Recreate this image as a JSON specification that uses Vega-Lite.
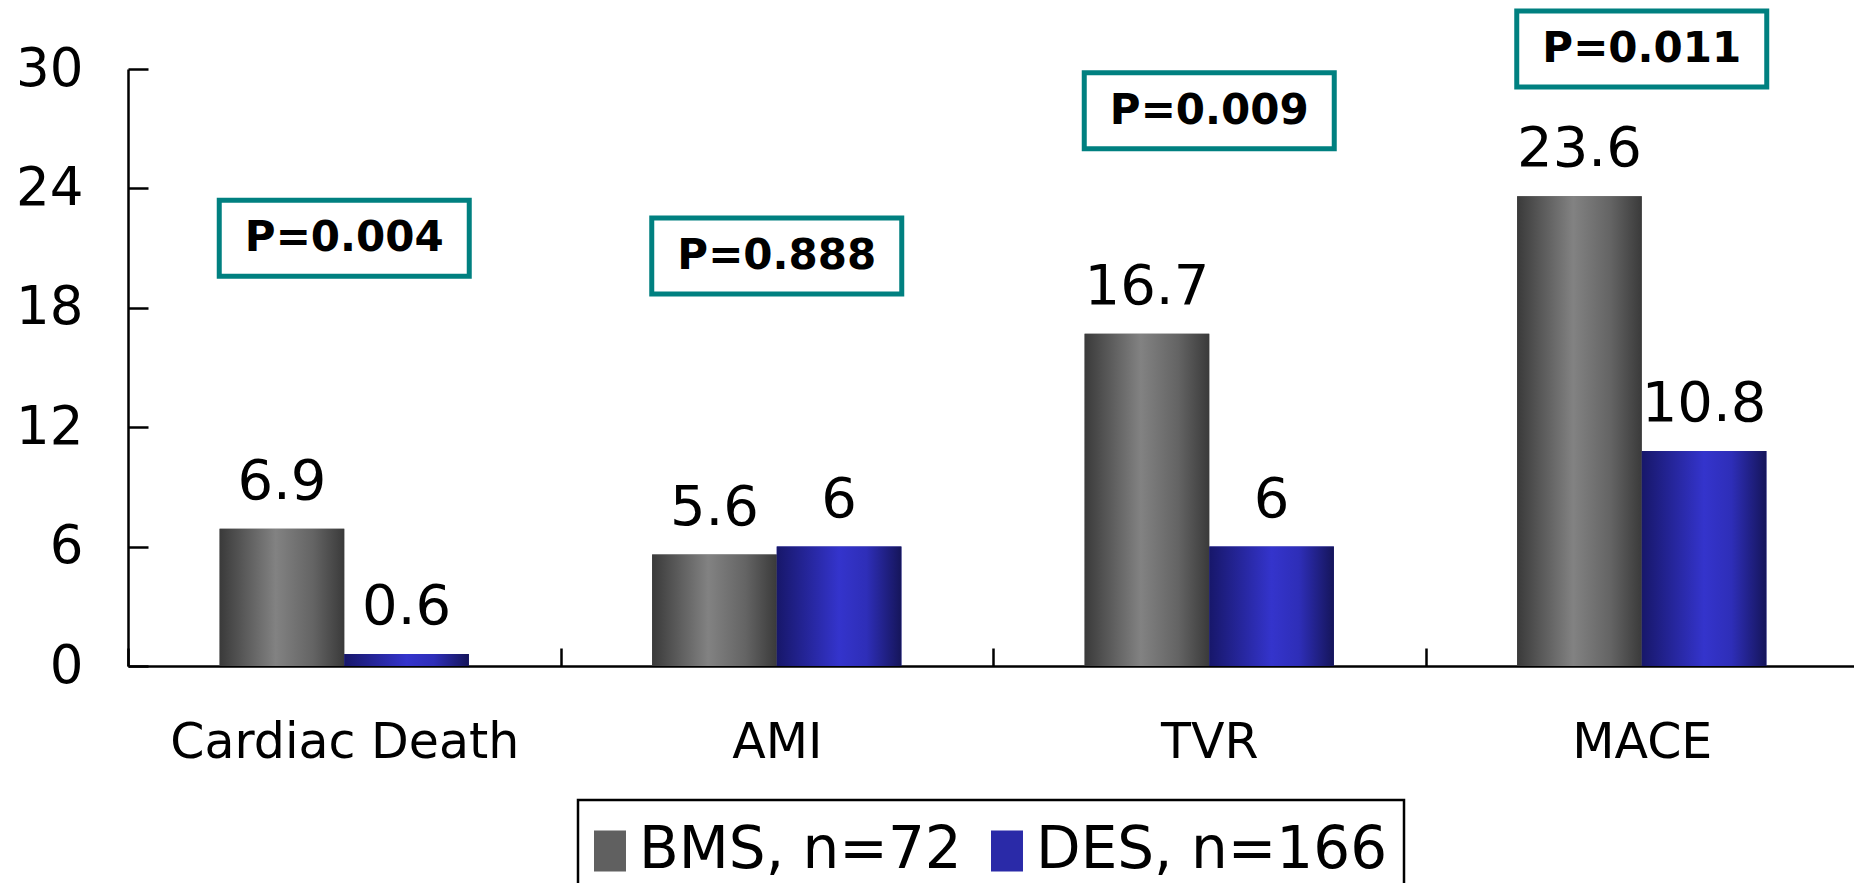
{
  "$schema": "https://vega.github.io/schema/vega-lite/v6.json",
  "autosize": "none",
  "width": 1730,
  "height": 597,
  "padding": {"left": 128, "top": 69, "right": 0, "bottom": 217},
  "background": "white",
  "config": {"view": {"stroke": null}, "font": "DejaVu Sans"},
  "datasets": {
    "bars": [
      {"category": "Cardiac Death", "series": "BMS, n=72", "value": 6.9},
      {"category": "Cardiac Death", "series": "DES, n=166", "value": 0.6},
      {"category": "AMI", "series": "BMS, n=72", "value": 5.6},
      {"category": "AMI", "series": "DES, n=166", "value": 6},
      {"category": "TVR", "series": "BMS, n=72", "value": 16.7},
      {"category": "TVR", "series": "DES, n=166", "value": 6},
      {"category": "MACE", "series": "BMS, n=72", "value": 23.6},
      {"category": "MACE", "series": "DES, n=166", "value": 10.8}
    ],
    "pvals": [
      {"category": "Cardiac Death", "label": "P=0.004", "y": 21.5},
      {"category": "AMI", "label": "P=0.888", "y": 20.6},
      {"category": "TVR", "label": "P=0.009", "y": 27.9},
      {"category": "MACE", "label": "P=0.011", "y": 31.0}
    ]
  },
  "layer": [
    {
      "data": {"name": "bars"},
      "mark": {"type": "bar"},
      "encoding": {
        "x": {
          "field": "category", "type": "nominal",
          "scale": {"domain": ["Cardiac Death", "AMI", "TVR", "MACE"], "paddingInner": 0, "paddingOuter": 0},
          "axis": {
            "title": null, "tickBand": "extent", "labelAngle": 0, "labelLimit": 0,
            "domainColor": "black", "domainWidth": 2.5, "tickColor": "black", "tickWidth": 2.5, "tickSize": -18,
            "labelFontSize": 49, "labelColor": "black", "labelPadding": 70, "labelFont": "DejaVu Sans"
          }
        },
        "xOffset": {
          "field": "series", "type": "nominal",
          "scale": {"domain": ["BMS, n=72", "DES, n=166"], "paddingInner": 0, "paddingOuter": 0.735}
        },
        "y": {
          "field": "value", "type": "quantitative",
          "scale": {"domain": [0, 30], "nice": false},
          "axis": {
            "title": null, "values": [0, 6, 12, 18, 24, 30], "grid": false,
            "domainColor": "black", "domainWidth": 2.5, "tickColor": "black", "tickWidth": 2.5, "tickSize": -20,
            "labelFontSize": 53, "labelColor": "black", "labelPadding": 65, "labelFont": "DejaVu Sans"
          }
        },
        "color": {
          "field": "series", "type": "nominal",
          "scale": {"domain": ["BMS, n=72", "DES, n=166"], "range": ["#606060", "#2a2aa8"]},
          "legend": {
            "title": null, "orient": "none", "legendX": 450, "legendY": 731, "direction": "horizontal",
            "symbolType": "M-1,-0.586H-0.086V0.586H-1Z", "symbolSize": 4900, "symbolStrokeWidth": 0, "symbolOpacity": 1,
            "labelFontSize": 58, "labelFont": "DejaVu Sans", "labelColor": "black", "labelOffset": -25, "labelLimit": 0,
            "columnPadding": 29, "padding": 16, "strokeColor": "black", "fillColor": "white",
            "encode": {
              "legend": {"update": {"strokeWidth": {"value": 2.5}}}
            }
          }
        }
      }
    },
    {
      "data": {"name": "bars"},
      "transform": [{"filter": "datum.series === 'BMS, n=72'"}],
      "mark": {"type": "bar", "color": {"gradient": "linear", "x1": 0, "x2": 1, "y1": 0, "y2": 0, "stops": [{"offset": 0, "color": "#3a3a3a"}, {"offset": 0.45, "color": "#828282"}, {"offset": 0.75, "color": "#646464"}, {"offset": 1, "color": "#3a3a3a"}]}},
      "encoding": {
        "x": {"field": "category", "type": "nominal"},
        "xOffset": {"field": "series", "type": "nominal"},
        "y": {"field": "value", "type": "quantitative"}
      }
    },
    {
      "data": {"name": "bars"},
      "transform": [{"filter": "datum.series === 'DES, n=166'"}],
      "mark": {"type": "bar", "color": {"gradient": "linear", "x1": 0, "x2": 1, "y1": 0, "y2": 0, "stops": [{"offset": 0, "color": "#17176a"}, {"offset": 0.5, "color": "#3434cc"}, {"offset": 0.72, "color": "#2e2eb8"}, {"offset": 1, "color": "#15155a"}]}},
      "encoding": {
        "x": {"field": "category", "type": "nominal"},
        "xOffset": {"field": "series", "type": "nominal"},
        "y": {"field": "value", "type": "quantitative"}
      }
    },
    {
      "data": {"name": "bars"},
      "mark": {"type": "text", "fontSize": 56, "font": "DejaVu Sans", "baseline": "alphabetic", "dy": -30, "color": "black"},
      "encoding": {
        "x": {"field": "category", "type": "nominal"},
        "xOffset": {"field": "series", "type": "nominal"},
        "y": {"field": "value", "type": "quantitative"},
        "text": {"field": "value", "type": "nominal"}
      }
    },
    {
      "data": {"name": "pvals"},
      "mark": {"type": "point", "shape": "M-1,-0.304H1V0.304H-1Z", "size": 62500, "filled": false, "fill": "white", "fillOpacity": 1, "stroke": "#008080", "strokeWidth": 5, "opacity": 1},
      "encoding": {
        "x": {"field": "category", "type": "nominal"},
        "y": {"field": "y", "type": "quantitative"}
      }
    },
    {
      "data": {"name": "pvals"},
      "mark": {"type": "text", "fontSize": 42, "font": "DejaVu Sans", "fontWeight": "bold", "baseline": "middle", "color": "black"},
      "encoding": {
        "x": {"field": "category", "type": "nominal"},
        "y": {"field": "y", "type": "quantitative"},
        "text": {"field": "label", "type": "nominal"}
      }
    }
  ]
}
